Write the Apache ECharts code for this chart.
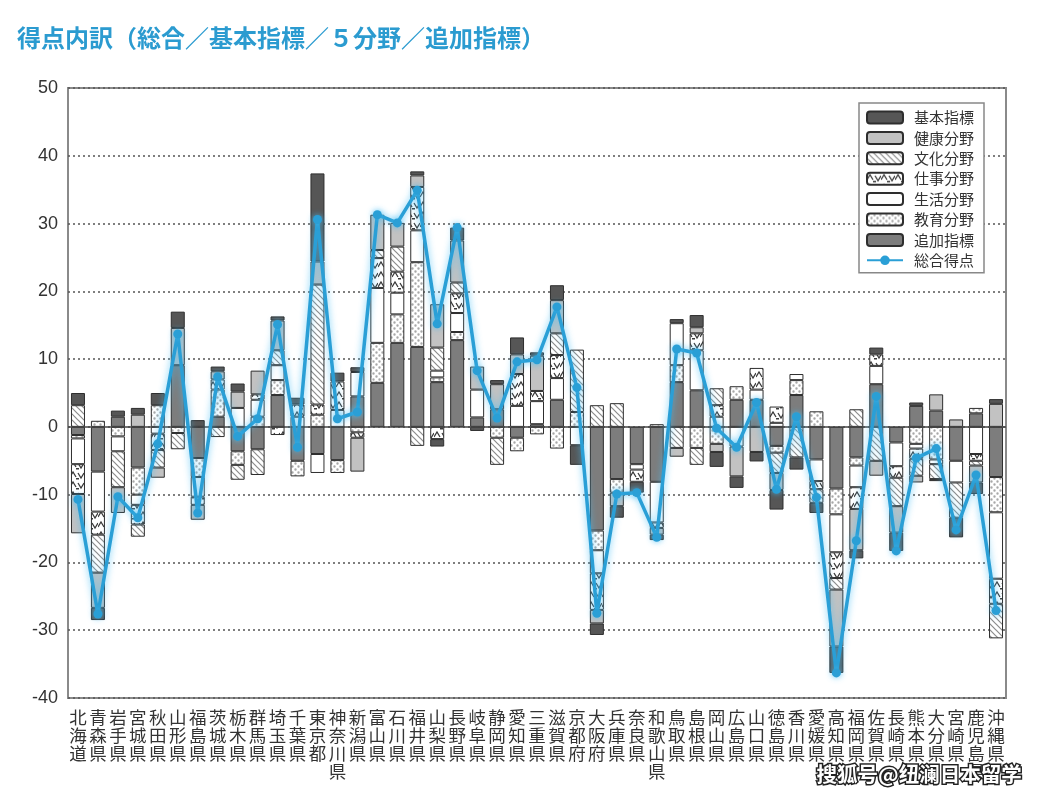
<!DOCTYPE html>
<html><head><meta charset="utf-8">
<script src="https://cdn.jsdelivr.net/npm/echarts@6/dist/echarts.min.js"></script>
<style>html,body{margin:0;padding:0;background:#fff;}#c{width:1040px;height:797px;}</style>
</head><body><div id="c"></div>
<script>
const prefectures = ['北海道','青森県','岩手県','宮城県','秋田県','山形県','福島県','茨城県','栃木県','群馬県','埼玉県','千葉県','東京都','神奈川県','新潟県','富山県','石川県','福井県','山梨県','長野県','岐阜県','静岡県','愛知県','三重県','滋賀県','京都府','大阪府','兵庫県','奈良県','和歌山県','鳥取県','島根県','岡山県','広島県','山口県','徳島県','香川県','愛媛県','高知県','福岡県','佐賀県','長崎県','熊本県','大分県','宮崎県','鹿児島県','沖縄県'];
const yTicks = [-40,-30,-20,-10,0,10,20,30,40,50];
const kihon   = [1.8,-1.8,0.9,1.0,1.8,2.4,1.0,0.7,1.2,0,0.6,1.0,13.0,1.3,0.7,0,0,0.6,-1.1,1.9,-0.6,0.6,2.5,0.5,2.2,-2.9,-1.7,-1.7,-1.6,-0.8,0.6,1.8,-2.2,-1.7,-1.4,-2.9,-1.8,-1.5,-3.9,-1.2,1.0,-2.7,0.5,-0.3,-2.9,-1.7,0.7];
const kenko   = [-5.8,-5.2,-3.8,1.8,-1.5,5.5,-2.2,1.2,2.4,3.5,4.4,0,3.4,0,-5.0,5.2,3.5,1.7,6.4,6.2,3.4,3.7,2.9,5.2,4.9,0,-2.0,-2.0,0,-1.0,-1.3,0.9,-1.2,-4.4,-3.7,-2.5,0,0,-8.4,-6.1,-2.2,-3.9,-1.0,2.4,1.1,-2.5,3.4];
const bunka   = [3.2,-5.6,-5.3,-1.8,-2.6,-2.4,0,-1.5,-2.2,-3.8,2.2,0,17.7,0,0,1.2,3.7,-2.8,3.4,1.6,0,-4.0,0,0,3.2,9.2,3.2,3.5,0,0,-3.1,-2.5,2.5,0,0,-3.0,-4.5,-2.0,-1.7,2.6,-5.0,-4.2,-2.5,-2.2,-5.2,-0.7,-5.1];
const shigoto = [-4.4,-3.4,0,-2.9,-2.4,0,-1.2,1.5,0,0.8,-1.2,1.8,1.5,4.2,-0.8,4.4,3.1,6.4,-1.8,2.9,0,0,4.7,1.5,3.4,0,-5.4,0,-1.8,-0.8,0,2.5,1.7,0,3.2,2.4,0,-1.2,-3.8,-3.2,1.7,-1.7,-1.5,0,0,-1.0,-3.7];
const seikatsu= [-3.8,-5.9,-2.2,-1.5,-1.0,0,-2.9,0,2.8,2.5,2.2,1.5,-2.8,2.5,3.6,8.1,3.2,4.7,1.0,2.8,4.1,0,3.1,3.4,3.2,-2.7,-3.4,0,-0.8,-6.0,6.2,5.9,1.5,-2.9,1.5,0.6,0.9,-3.2,-5.6,-3.2,2.7,-3.5,-0.7,-0.7,-3.2,-4.0,-9.8];
const kyoiku  = [-0.5,0.9,-1.4,-4.0,3.2,-0.9,-2.8,4.0,-2.0,1.5,2.2,-2.3,1.8,-1.9,-0.8,5.9,4.2,12.5,0.7,1.2,0,-1.6,-2.0,-1.1,-3.2,2.2,-2.9,-2.0,0,0.4,2.5,-3.1,-2.5,2.0,0,-1.0,2.2,2.3,-3.8,-1.2,0,0,-2.5,-4.8,0,0.8,-5.2];
const tsuika  = [-1.2,-6.6,1.5,-6.0,0,9.1,-4.6,1.5,-3.6,-3.3,4.7,-5.0,-4.0,-4.9,4.5,6.5,12.4,11.8,6.6,12.8,1.4,2.6,-1.6,0.4,4.0,0,-15.3,-7.7,-5.5,-8.1,6.6,5.4,0,4.0,4.0,-2.8,4.7,-4.8,-9.1,-4.5,6.3,-2.3,3.1,2.4,-5.0,2.0,-7.4];
const totals  = [-10.7,-27.6,-10.3,-13.4,-2.5,13.7,-12.7,7.4,-1.4,1.2,15.1,-3.0,30.6,1.2,2.2,31.3,30.1,34.9,15.2,29.4,8.3,1.3,9.6,9.9,17.7,5.8,-27.5,-9.9,-9.7,-16.3,11.5,10.9,-0.2,-3.0,3.6,-9.2,1.5,-10.4,-36.3,-16.8,4.5,-18.3,-4.6,-3.2,-15.2,-7.1,-27.1];

function tile(w,h,draw){const c=document.createElement('canvas');c.width=w;c.height=h;const g=c.getContext('2d');g.fillStyle='#fff';g.fillRect(0,0,w,h);draw(g);return c;}
const hatchTile = tile(6,6,g=>{g.strokeStyle='#8c8c8c';g.lineWidth=1.2;g.beginPath();g.moveTo(-3,3);g.lineTo(3,9);g.moveTo(0,0);g.lineTo(6,6);g.moveTo(3,-3);g.lineTo(9,3);g.stroke();});
const zigTile = tile(14,10,g=>{g.strokeStyle='#3a3a3a';g.lineWidth=1.3;g.beginPath();g.moveTo(0,7);g.lineTo(3,2);g.lineTo(6,7);g.moveTo(8,3);g.lineTo(11,8);g.lineTo(14,3);g.stroke();g.fillStyle='#3a3a3a';g.fillRect(6,8,3,1.5);});
const dotTile = tile(6,6,g=>{g.fillStyle='#a8a8a8';g.beginPath();g.arc(1.5,1.5,1.2,0,Math.PI*2);g.arc(4.5,4.5,1.2,0,Math.PI*2);g.fill();});
const pat = c => ({image:c, repeat:'repeat'});
const nz = arr => arr.map(v => v === 0 ? '-' : v);

const barDefs = [
  ['追加指標', tsuika, '#7d7d7d'],
  ['教育分野', kyoiku, pat(dotTile)],
  ['生活分野', seikatsu, '#ffffff'],
  ['仕事分野', shigoto, pat(zigTile)],
  ['文化分野', bunka, pat(hatchTile)],
  ['健康分野', kenko, '#c2c2c2'],
  ['基本指標', kihon, '#565656']
];
const series = barDefs.map(([name, data, color]) => ({
  name, type:'bar', stack:'total', barWidth:14, data:nz(data),
  itemStyle:{color, borderColor:'#2e2e2e', borderWidth:1},
  emphasis:{disabled:true}
}));
series.push({
  name:'総合得点', type:'line', data:totals, z:10,
  symbol:'circle', symbolSize:9,
  lineStyle:{width:3.5, color:'#2a9fd6', shadowColor:'rgba(70,190,245,0.8)', shadowBlur:7},
  itemStyle:{color:'#2a9fd6', shadowColor:'rgba(70,190,245,0.8)', shadowBlur:6},
  markLine:{silent:true, symbol:'none', label:{show:false}, data:[{yAxis:0}], lineStyle:{type:'solid', color:'#444', width:1.5}, animation:false}
});

const chart = echarts.init(document.getElementById('c'));
chart.setOption({
  animation:false,
  backgroundColor:'#fff',
  textStyle:{fontFamily:'"Noto Sans CJK JP", sans-serif'},
  title:{text:'得点内訳（総合／基本指標／５分野／追加指標）', left:12, top:21,
    textStyle:{color:'#2b9bd0', fontSize:24, fontWeight:'bold', fontFamily:'"Noto Sans CJK JP", sans-serif'}},
  legend:{
    data:['基本指標','健康分野','文化分野','仕事分野','生活分野','教育分野','追加指標','総合得点'],
    orient:'vertical', left:859, top:103, padding:[7,10,5,7], itemGap:5.4,
    itemWidth:36, itemHeight:12, backgroundColor:'#fff', borderColor:'#888', borderWidth:1.5,
    textStyle:{fontSize:15, color:'#333', padding:[0,0,0,6]}
  },
  grid:{left:68, right:34, top:88, bottom:99, show:true, borderColor:'#8a8a8a', borderWidth:2, containLabel:false},
  xAxis:{type:'category', data:prefectures,
    axisLine:{show:false}, axisTick:{show:false},
    axisLabel:{interval:0, margin:10, fontSize:17.5, lineHeight:18, color:'#333', verticalAlign:'top',
      formatter:v => v.split('').join('\n')}},
  yAxis:{type:'value', min:yTicks[0], max:yTicks[yTicks.length-1], interval:10,
    axisLine:{show:false}, axisTick:{show:false},
    axisLabel:{fontSize:18, color:'#333', margin:10, fontFamily:'"Liberation Sans", Arial, sans-serif'},
    splitLine:{lineStyle:{type:[2,3], color:'#555', width:1.5}}},
  series,
  graphic:[{type:'text', left:815, top:762, z:100,
    style:{text:'搜狐号@纽澜日本留学', fill:'#fff', stroke:'#222', lineWidth:3,
      font:'bold 20.5px "Noto Sans CJK SC", sans-serif'}}]
});
</script></body></html>
